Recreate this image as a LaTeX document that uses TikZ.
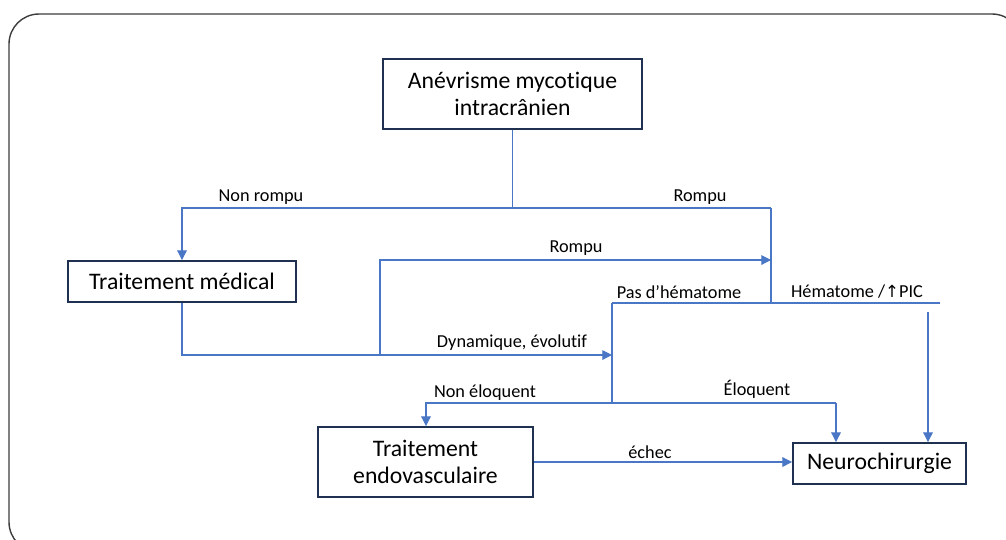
\documentclass[tikz,border=0pt]{standalone}
\usepackage{fontspec}
\setmainfont{Carlito}[Ligatures=NoCommon]
\newfontfamily\symfont{DejaVu Sans}
\usetikzlibrary{arrows.meta, positioning, calc}
\definecolor{boxnavy}{HTML}{1F3050}
\definecolor{linkblue}{HTML}{4A76C6}
\definecolor{framegray}{HTML}{3C3C3C}

\begin{document}
\begin{tikzpicture}[x=0.02cm, y=-0.02cm,
  box/.style={draw=boxnavy, line width=1.1pt, align=center, inner sep=0pt,
              font=\fontsize{13.5}{15.3}\selectfont},
  link/.style={linkblue, line width=0.6pt},
  arr/.style={link, -{Triangle[length=5.5pt, width=5.5pt]}},
  lbl/.style={font=\fontsize{10.4}{12}\selectfont, inner sep=1pt}]

  \useasboundingbox (0,0) rectangle (1006,539);
  \clip (0,0) rectangle (1006,539);

  % Frame
  \draw[framegray, line width=0.8pt, rounded corners=0.6cm] (9,14) rectangle (1022,552);

  % Boxes
  \node[box, minimum width=5.18cm, minimum height=1.4cm] (ami) at (512.5,94) {Anévrisme mycotique\\intracrânien};
  \node[box, minimum width=4.56cm, minimum height=0.82cm] (med) at (182,281.5) {Traitement médical};
  \node[box, minimum width=4.3cm, minimum height=1.4cm] (endo) at (425.5,462) {Traitement\\endovasculaire};
  \node[box, minimum width=3.46cm, minimum height=0.82cm] (neuro) at (879.5,463.5) {Neurochirurgie};

  % Junctions
  \coordinate (split) at (512.5,208);
  \coordinate (nrL) at (182,208);
  \coordinate (rR) at (771,208);
  \coordinate (rB) at (771,303);
  \coordinate (evoL) at (182,355);
  \coordinate (evoM) at (380,355);
  \coordinate (evoR) at (612,355);
  \coordinate (rupT) at (380,260);
  \coordinate (rupR) at (771,260);
  \coordinate (hemL) at (612,303);
  \coordinate (hemR) at (940,303);
  \coordinate (hemD) at (928,312);
  \coordinate (eloM) at (612,403);
  \coordinate (eloL) at (426,403);
  \coordinate (eloR) at (836,403);

  % Connectors
  \draw[link] (ami.south) -- (split);
  \draw[arr] (rR) -- (nrL) -- (med.north);
  \draw[link] (rR) -- (rB);
  \draw[arr] (evoM) -- (rupT) -- (rupR);
  \draw[arr] (med.south) -- (evoL) -- (evoR);
  \draw[link] (hemL) -- (hemR);
  \draw[arr] (hemD) -- (hemD |- neuro.north);
  \draw[link] (hemL) -- (eloM);
  \draw[arr] (eloR) -- (eloL) -- (eloL |- endo.north);
  \draw[arr] (eloR) -- (eloR |- neuro.north);
  \draw[arr] (endo.east) -- (endo.east -| neuro.west);

  % Labels
  \node[lbl] (lnr) at (261,197) {Non rompu};
  \node[lbl] (lr1) at (700,197) {Rompu};
  \node[lbl] (lr2) at (576,248) {Rompu};
  \node[lbl] (ldyn) at (512,343) {Dynamique, évolutif};
  \node[lbl] (lpas) at (679,292) {Pas d’hématome};
  \node[lbl] (lhem) at (857,292) {Hématome /{\symfont\fontsize{9.5}{11}\selectfont ↑}PIC};
  \node[lbl] (lnel) at (485,393) {Non éloquent};
  \node[lbl] (lelo) at (757,389) {Éloquent};
  \node[lbl] (lech) at (650,452) {échec};

\end{tikzpicture}
\end{document}
